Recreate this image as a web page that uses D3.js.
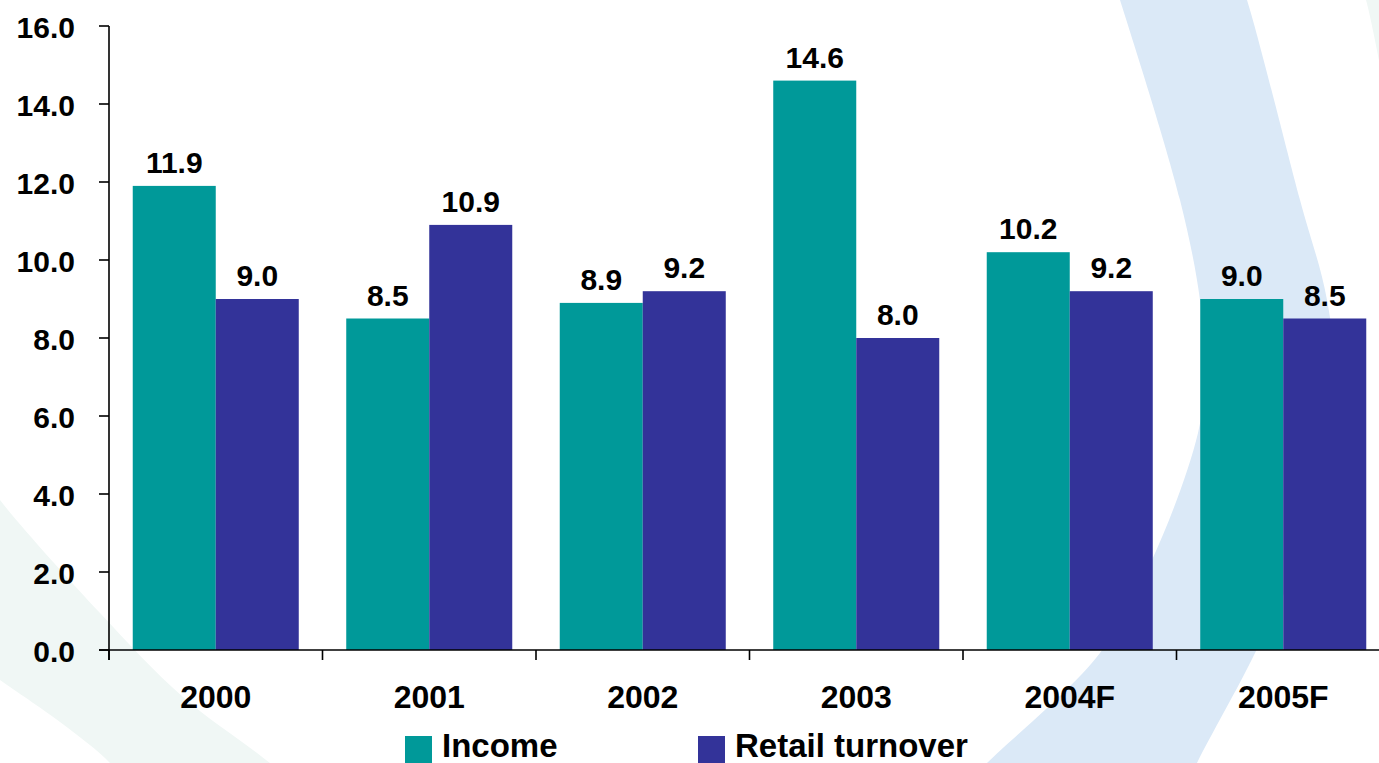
<!DOCTYPE html>
<html>
<head>
<meta charset="utf-8">
<script src="https://cdn.jsdelivr.net/npm/d3@7"></script>
<style>
  html, body { margin: 0; padding: 0; background: #ffffff; }
  svg { display: block; font-family: "Liberation Sans", Arial, sans-serif; font-weight: bold; }
</style>
</head>
<body>
<svg id="chart" width="1379" height="763"></svg>
<script>
// ---- data ----
const categories = ["2000", "2001", "2002", "2003", "2004F", "2005F"];
const income = [11.9, 8.5, 8.9, 14.6, 10.2, 9.0];
const retail = [9.0, 10.9, 9.2, 8.0, 9.2, 8.5];
const seriesNames = ["Income", "Retail turnover"];
const yTickValues = [0, 2, 4, 6, 8, 10, 12, 14, 16];

const colors = { "Income": "#009999", "Retail turnover": "#333399" };
const W = 1379, H = 763;
const svg = d3.select("#chart");

// ---- decorative background ----
const curve = d3.line().curve(d3.curveCatmullRom.alpha(0.5));
// light blue arc band on the right
const outerEdge = [[1236,-30],[1247,0],[1300,200],[1327,300],[1336,400],[1310,530],[1255,653],[1197,763],[1180,800]];
const innerEdge = [[1110,-30],[1120,0],[1180,200],[1200,300],[1205,370],[1198,433],[1152,560],[1100,653],[987,763],[950,800]];
svg.append("path")
  .attr("d", curve(outerEdge) + "L" + curve(innerEdge.slice().reverse()).slice(1) + "Z")
  .attr("fill", "#dbe9f7");
// faint mint band bottom-left
const mintOuter = [[-20,470],[0,500],[100,613],[183,697],[270,763],[300,790]];
const mintInner = [[-20,665],[0,680],[60,722],[110,763],[130,790]];
svg.append("path")
  .attr("d", curve(mintOuter) + "L" + curve(mintInner.slice().reverse()).slice(1) + "Z")
  .attr("fill", "#f0f7f5");
// faint mint sliver top-right
const mintTR1 = [[1362,-10],[1366,0],[1379,60]];
svg.append("path")
  .attr("d", curve(mintTR1) + "L1390,60L1390,-10Z")
  .attr("fill", "#f0f7f5");

// ---- scales ----
const y = d3.scaleLinear().domain([0, 16]).range([650, 26]);
const x0 = d3.scaleBand().domain(categories).range([109, 1390]).padding(0);
const x1 = d3.scaleBand().domain(seriesNames).range([0, x0.bandwidth()])
  .paddingInner(0).paddingOuter(0.286);

const rows = categories.map((c, i) => ({ cat: c, vals: [
  { key: "Income", v: income[i] },
  { key: "Retail turnover", v: retail[i] }
]}));

// ---- bars ----
const groups = svg.append("g").selectAll("g").data(rows).join("g")
  .attr("transform", d => `translate(${x0(d.cat)},0)`);
groups.selectAll("rect").data(d => d.vals).join("rect")
  .attr("x", d => x1(d.key))
  .attr("y", d => y(d.v))
  .attr("width", x1.bandwidth())
  .attr("height", d => y(0) - y(d.v))
  .attr("fill", d => colors[d.key]);

// value labels
const fmt = d3.format(".1f");
groups.selectAll("text").data(d => d.vals).join("text")
  .attr("x", d => x1(d.key) + x1.bandwidth() / 2)
  .attr("y", d => y(d.v) - 13)
  .attr("text-anchor", "middle")
  .attr("font-size", 30)
  .attr("fill", "#000")
  .text(d => fmt(d.v));

// ---- y axis ----
const yAxis = svg.append("g").attr("transform", "translate(109,0)");
yAxis.append("line").attr("x1", 0).attr("x2", 0).attr("y1", y(16)).attr("y2", y(0) + 10)
  .attr("stroke", "#000").attr("stroke-width", 1.6);
const yt = yAxis.selectAll("g.tick").data(yTickValues).join("g").attr("class", "tick")
  .attr("transform", d => `translate(0,${y(d)})`);
yt.append("line").attr("x1", -10).attr("x2", 0).attr("stroke", "#000").attr("stroke-width", 1.6);
yt.append("text").attr("x", -34).attr("dy", 11.5).attr("text-anchor", "end")
  .attr("font-size", 30).attr("fill", "#000").text(d => fmt(d));

// ---- x axis ----
const xAxis = svg.append("g");
xAxis.append("line").attr("x1", 99).attr("x2", W).attr("y1", y(0)).attr("y2", y(0))
  .attr("stroke", "#000").attr("stroke-width", 1.6);
xAxis.selectAll("line.xt").data(categories).join("line").attr("class", "xt")
  .attr("x1", d => x0(d)).attr("x2", d => x0(d))
  .attr("y1", y(0)).attr("y2", y(0) + 10)
  .attr("stroke", "#000").attr("stroke-width", 1.6);
xAxis.selectAll("text").data(categories).join("text")
  .attr("x", d => x0(d) + x0.bandwidth() / 2)
  .attr("y", 708)
  .attr("text-anchor", "middle")
  .attr("font-size", 32)
  .attr("fill", "#000")
  .text(d => d);

// ---- legend ----
const legendX = [405, 698];
const legend = svg.append("g").selectAll("g").data(seriesNames).join("g")
  .attr("transform", (d, i) => `translate(${legendX[i]},736)`);
legend.append("rect").attr("width", 27).attr("height", 27).attr("fill", d => colors[d]);
legend.append("text").attr("x", 37).attr("y", 21).attr("font-size", 33)
  .attr("fill", "#000").text(d => d);
</script>
</body>
</html>
